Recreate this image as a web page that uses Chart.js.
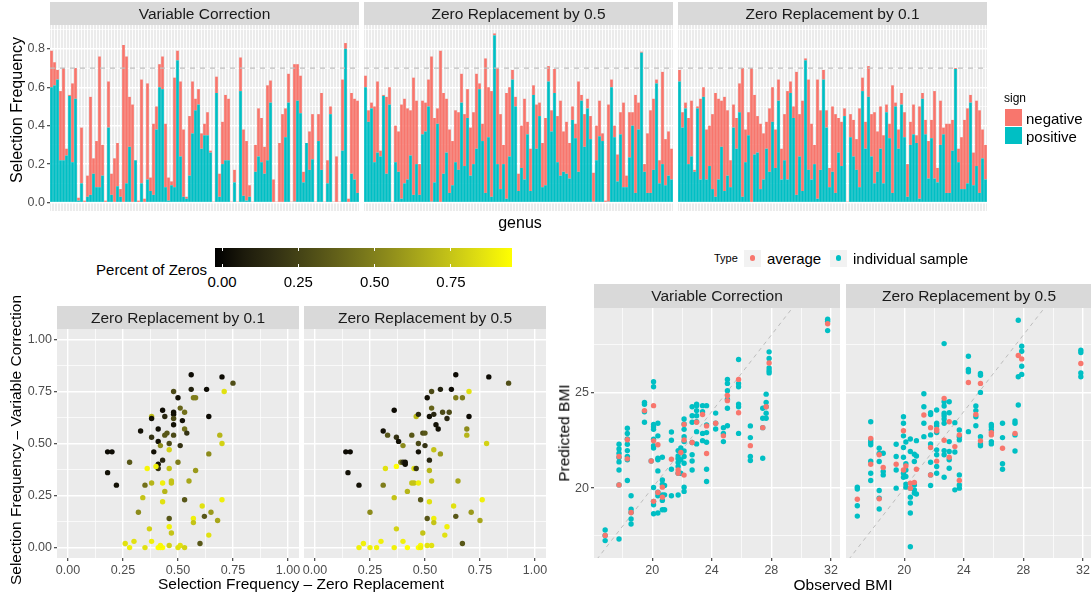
<!DOCTYPE html>
<html>
<head>
<meta charset="utf-8">
<script src="https://cdn.jsdelivr.net/npm/chart.js@4.4.1/dist/chart.umd.min.js"></script>
<style>
  body { margin: 0; background: #fff; width: 1091px; height: 596px; position: relative; overflow: hidden;
         font-family: "Liberation Sans", Arial, sans-serif; }
  canvas { position: absolute; }
  .t { position: absolute; white-space: nowrap; color: #000; line-height: 1; }
  .box { position: absolute; }
</style>
</head>
<body>
<canvas id="top1"></canvas><canvas id="top2"></canvas><canvas id="top3"></canvas>
<canvas id="sc1"></canvas><canvas id="sc2"></canvas>
<canvas id="bmi1"></canvas><canvas id="bmi2"></canvas>
<script>
// ---- top: selection frequency per genus, stacked by sign ----
const posVC = [.60,.61,.64,.22,.22,.245,.555,.21,.54,.01,.10,0,.03,.04,.15,.08,.08,.14,0,.39,.04,0,.085,.03,0,.10,.29,0,.22,0,
  .10,0,.12,.06,.04,.38,.60,.59,.08,.01,.09,.08,.74,.24,.03,.02,.14,.36,.48,.51,.28,.35,.35,.26,0,.57,.03,.20,.22,.22,
  0,.105,0,.58,.035,.01,.03,0,.16,.24,.21,.15,.22,.52,0,0,0,0,.34,.52,0,.005,.53,.465,.105,.31,.17,.225,0,.32,
  .17,0,.10,.46,0,0,0,.27,.80,0,.15,.12,.05];
const negVC = [.19,.12,.05,.36,.48,.035,.005,.41,.16,.015,.29,.01,.11,.51,.08,.24,.68,.16,.01,.24,.11,.23,.225,.04,.82,.66,.26,.51,0,.01,
  .54,.02,.50,.07,.37,.12,.12,.17,.33,.12,.02,.57,.05,.39,.35,.01,.31,.27,.06,.08,.08,.06,.12,.01,.005,.085,.12,.22,.34,.32,
  .005,.065,.005,.175,.345,.31,.06,.005,.14,.25,.23,.14,.39,.115,.12,.005,.31,.46,.15,.15,.005,.715,.19,.195,.055,0,.20,.235,.005,.14,
  .40,.005,.12,.04,.005,.24,.005,.37,.03,.02,.42,.42,.48];
const posZR05 = [.60,.42,.49,.21,.26,.24,.555,.15,.51,0,.21,.16,.02,.10,.12,.245,.04,.20,.04,.355,.37,.50,.005,.105,.41,0,.15,.26,.05,.09,
  .21,.17,.52,.19,.44,.14,.20,.28,.59,.32,.05,.34,.03,.87,.20,.07,.20,.02,.24,.64,.50,.06,.18,.12,.355,.06,.56,.28,.45,.08,
  .09,.63,.37,.57,.21,.14,.16,.15,.125,.43,.335,.16,.53,.29,.49,.33,.005,.22,.345,.32,0,.005,.60,.34,.11,.355,.08,.08,.235,.40,
  .05,.38,.78,.16,.05,.05,.17,.62,.10,.20,.09,.14,.12];
const negZR05 = [.06,.06,.03,.29,.37,.03,.005,.40,.09,.005,.19,.21,.49,.44,.37,.235,.61,.33,.16,.175,.15,.14,.755,.335,.08,.79,.42,.28,.33,.23,
  .27,.30,.15,.27,.15,.25,.27,.39,.03,.09,.70,.26,.55,.01,.50,.39,.10,.55,.36,.05,.05,.09,.22,.42,.065,.22,.05,.23,.07,.23,
  .35,.08,.11,.125,.24,.39,.21,.27,.185,.07,.075,.47,.03,.17,.05,.12,.15,.18,.185,.04,.01,.505,.04,.06,.14,.115,.44,.06,.235,.07,
  .51,.14,.005,.04,.31,.43,.37,.02,.12,.48,.24,.23,.16];
const posZR01 = [.63,.39,.49,.20,.24,.16,.49,.12,.55,.12,.19,.07,.03,.12,.29,.06,.14,.08,.39,.28,.47,.03,.21,.35,0,.25,.26,.07,.12,.28,
  .16,.42,.18,.53,.12,.22,.12,.57,.44,.04,.24,.06,.74,.17,.12,.20,.02,.17,.64,.39,.08,.16,.05,.26,.19,.45,0,.34,.24,.17,
  .08,.58,.28,.55,.24,.10,.16,.28,.10,.47,.335,.05,.50,.28,.51,.34,.03,.30,.355,.31,.02,.54,.355,.125,.335,.125,.105,.30,.355,.05,
  .05,.27,.695,.21,.07,.07,.10,.52,.09,.19,.05,.23,.12];
const negZR01 = [.06,.08,.03,.24,.29,.01,.01,.42,.05,.26,.21,.39,.54,.42,.24,.49,.34,.14,.12,.16,.15,.67,.17,.12,.70,.31,.19,.34,.24,.14,
  .33,.18,.20,.11,.16,.24,.46,.06,.06,.64,.22,.47,.01,.47,.29,.10,.62,.31,.05,.09,.10,.34,.41,.18,.23,.04,.005,.12,.19,.16,
  .41,.07,.14,.16,.22,.37,.21,.22,.25,.04,.075,.56,.02,.10,.06,.13,.17,.12,.155,.04,.48,.03,.075,.195,.095,.455,.075,.23,.035,.36,
  .36,.16,.005,.07,.27,.36,.39,.04,.17,.34,.43,.15,.18];
const genus = posVC.map((_, i) => 'genus ' + (i + 1));
const freqMajor = [0, 0.2, 0.4, 0.6, 0.8];
const freqMinor = [0.1, 0.3, 0.5, 0.7, 0.9];
const cutoff = 0.7;

// ---- bottom left: [zero replacement freq, variable correction freq, percent of zeros] ----
const zr01Points = [
  [.56,.83,.03],[.70,.82,.03],[.75,.79,.32],[.71,.75,.85],[.63,.76,.03],[.56,.76,.12],[.48,.75,.3],[.50,.72,.05],[.57,.72,.5],[.58,.72,.5],
  [.43,.66,.03],[.48,.65,.05],[.48,.64,.05],[.53,.65,.45],[.38,.63,.72],[.38,.62,.05],[.44,.63,.15],[.51,.67,.4],[.48,.62,.3],[.64,.63,.03],
  [.52,.61,.05],[.48,.59,.05],[.33,.56,.05],[.41,.57,.05],[.53,.57,.45],[.54,.55,.2],[.45,.55,.35],[.44,.54,.35],[.48,.54,.3],[.38,.53,.2],
  [.69,.54,.7],[.41,.51,.05],[.46,.50,.3],[.51,.49,.2],[.42,.49,.55],[.70,.50,.8],[.18,.46,.03],[.20,.46,.03],[.39,.46,.05],[.46,.47,.8],
  [.64,.45,.55],[.28,.41,.35],[.43,.42,.15],[.50,.41,.5],[.41,.40,.05],[.41,.38,.2],[.40,.39,.9],[.36,.38,.92],[.46,.38,.75],[.58,.37,.6],
  [.18,.36,.05],[.55,.32,.65],[.47,.32,.75],[.47,.31,.75],[.38,.31,.7],[.43,.31,.9],[.35,.30,.45],[.22,.30,.05],[.44,.27,.7],[.34,.24,.75],
  [.53,.23,.35],[.70,.23,.9],[.43,.22,.85],[.61,.20,.85],[.32,.17,.55],[.65,.17,.6],[.62,.15,.35],[.46,.14,.35],[.57,.14,.9],[.68,.13,.65],
  [.57,.12,.75],[.46,.10,.9],[.37,.09,.8],[.47,.07,.75],[.64,.06,.85],[.26,.02,.85],[.30,.03,.85],[.28,0,.9],[.38,.03,.9],[.35,0,.85],
  [.41,0,.95],[.42,0,.95],[.43,0,.95],[.42,.01,.93],[.46,.01,.8],[.50,0,.85],[.51,.01,.85],[.53,0,.8],[.60,.02,.35]
];
const zr05Points = [
  [.64,.83,.03],[.79,.82,.03],[.88,.79,.32],[.70,.75,.85],[.57,.76,.12],[.62,.76,.03],[.53,.75,.3],[.51,.72,.05],[.64,.72,.5],[.67,.72,.5],
  [.36,.66,.03],[.46,.63,.72],[.47,.64,.15],[.52,.63,.05],[.54,.64,.15],[.53,.67,.4],[.58,.65,.3],[.61,.65,.3],[.60,.62,.15],[.70,.63,.03],
  [.55,.59,.05],[.56,.57,.05],[.31,.56,.05],[.33,.54,.35],[.44,.54,.35],[.49,.55,.3],[.50,.55,.35],[.37,.53,.2],[.38,.51,.05],[.47,.50,.3],
  [.50,.49,.2],[.40,.49,.55],[.69,.57,.55],[.69,.54,.7],[.78,.50,.8],[.14,.46,.03],[.16,.46,.03],[.47,.46,.05],[.54,.47,.75],[.57,.45,.6],
  [.39,.41,.5],[.40,.41,.2],[.41,.40,.05],[.41,.41,.05],[.52,.42,.15],[.37,.39,.95],[.32,.38,.85],[.45,.38,.85],[.46,.38,.2],[.52,.37,.7],
  [.15,.36,.05],[.31,.30,.5],[.20,.30,.05],[.44,.31,.75],[.45,.31,.75],[.47,.31,.9],[.53,.32,.75],[.65,.32,.65],[.42,.27,.7],[.36,.24,.75],
  [.48,.23,.35],[.52,.22,.85],[.76,.23,.9],[.63,.20,.85],[.25,.17,.55],[.71,.17,.6],[.64,.15,.35],[.51,.14,.35],[.54,.14,.9],[.75,.13,.65],
  [.54,.12,.75],[.60,.10,.9],[.37,.09,.8],[.49,.07,.75],[.59,.06,.85],[.22,.02,.9],[.30,.03,.9],[.20,0,.9],[.25,0,.9],[.28,0,.9],
  [.36,0,.9],[.40,.03,.9],[.42,0,.95],[.47,0,.95],[.48,.01,.93],[.48,0,.9],[.51,.01,.85],[.53,.01,.85],[.67,.02,.35]
];
const sfMajor = [0, 0.25, 0.5, 0.75, 1];
const sfMinor = [0.125, 0.375, 0.625, 0.875];
const zeroTicks = [0, 0.25, 0.5, 0.75];
const zeroMax = 0.95;

// ---- bottom right: [observed BMI, [predicted BMI ...]] ----
const vcSample = [
  [16.84,[17.81,17.53,17.26]],[17.77,[22.29,22.05,21.82,21.60,21.37,20.95,20.17,17.34]],
  [18.33,[23.13,22.86,22.57,22.29,21.96,21.65,21.48,20.40]],[18.58,[19.60,18.90,18.73,18.39,18.13]],
  [19.48,[24.48,24.38,23.99,23.44]],[19.93,[21.42]],
  [20.09,[25.56,25.30,23.33,23.21,23.07,22.55,22.22,22.10,20.03,19.31,19.13,18.66]],
  [20.38,[23.39,22.73,21.56,21.48,20.90,19.79,19.60,18.70]],[20.68,[21.61,20.43,20.21,19.65,19.36,18.87]],
  [20.83,[20.14,19.65,18.87]],[21.29,[22.93,22.50,20.99,19.60]],[21.74,[21.96,21.68,21.53,21.34,21.13,20.78,19.64]],
  [21.92,[22.10,21.48,20.78]],[22.14,[23.61,23.35,23.07,22.69,22.43,21.94,21.65,21.30,20.05,19.83]],
  [22.68,[24.25,23.78,23.44,22.38,21.74,21.42,20.95]],[22.98,[24.38,24.31,24.05,23.78,23.47,22.95,22.31]],
  [23.38,[24.31,23.99,22.86,22.48]],[23.65,[24.31,23.30,22.90,22.40,20.99,20.35]],[24.26,[23.92,23.39,23.09]],
  [24.78,[23.16,22.86,22.43]],[25.05,[25.68,25.47,25.09,24.64,24.17,23.26]],[25.80,[26.72,25.47,25.30,24.39,24.25,22.86]],
  [26.59,[23.25,22.64,21.65,21.44]],[27.42,[24.17,23.65,23.16,21.56]],[27.65,[24.91,24.48,24.25,23.91,23.65]],
  [27.85,[27.12,26.77,26.28,26.13,26.02]],[31.78,[28.82,28.72,28.23]]
];
const vcAverage = [
  [16.84,[17.53]],[17.77,[21.65,20.17]],[18.33,[22.53,21.53]],[18.58,[18.73]],[19.48,[24.05]],[19.93,[21.42]],
  [20.09,[24.31,22.47,19.31]],[20.38,[22.27,19.77]],[20.68,[20.05,19.53]],[21.29,[21.51]],[21.74,[20.95,20.78]],
  [21.92,[21.86]],[22.14,[23.33,22.52,20.68]],[22.68,[22.38]],[22.98,[23.44]],[23.38,[23.85]],[23.65,[23.25,21.81]],
  [24.26,[23.39]],[24.78,[22.73]],[25.05,[24.84,24.57]],[25.80,[25.68,23.94]],[26.59,[22.22]],[27.42,[23.16]],
  [27.65,[24.25]],[27.85,[26.54]],[31.78,[28.59]]
];
const zrSample = [
  [16.85,[20.05,19.95,19.08,18.54]],[17.75,[23.47,22.52,22.38,22.26,21.41,20.78,20.40]],
  [18.32,[22.08,21.81,21.39,19.88,19.48,18.91]],[18.59,[21.82,20.87,20.69]],[19.46,[22.29,21.65,20.95,20.00]],
  [19.95,[23.73,23.39,22.73,22.12,21.61,20.78,20.57]],[20.11,[22.41,21.27,20.95,20.61,20.21,20.05]],
  [20.41,[22.57,21.91,20.00,19.53,19.22,18.70,16.94]],[20.68,[21.77,21.39,20.17,19.91,19.74]],
  [20.82,[22.48,21.68,19.69]],[21.32,[24.93,24.25,23.39,22.69]],[21.77,[23.94,23.85,22.78,22.31,21.35,20.69,20.14]],
  [22.18,[24.08,23.39,23.26,22.90,22.00,21.74,21.13,20.78]],
  [22.68,[27.55,24.51,24.29,23.91,23.78,23.61,23.39,21.96,21.74,20.57]],
  [23.02,[24.51,23.94,22.43,21.91,21.48,21.04]],[23.40,[23.42,21.89,19.91]],[23.70,[23.04,22.69,22.52,20.69,20.17,20.00]],
  [24.31,[26.89,26.20,26.08,22.95]],[24.81,[24.29,24.05,23.73,23.26]],[25.12,[25.99,25.90,25.00,22.69,22.31,22.21]],
  [25.85,[23.33,23.21,23.04,22.43,22.31]],[26.60,[23.39,22.64,21.27,20.99]],[27.44,[23.51,23.39,22.78,21.94]],
  [27.66,[28.77,25.82,24.34]],[27.89,[27.41,27.15,26.37,25.94]],[31.86,[27.20,27.08,26.02,25.82]]
];
const zrAverage = [
  [16.85,[19.42]],[17.75,[22.60,21.25]],[18.32,[21.74,19.44]],[18.59,[21.08]],[19.46,[21.25]],[19.95,[23.00,20.95]],
  [20.11,[21.16]],[20.41,[20.26,20.00]],[20.68,[20.30]],[20.82,[20.99]],[21.32,[23.82]],[21.77,[23.16,22.12,20.69]],
  [22.18,[23.07,23.00,21.41]],[22.68,[24.69,22.50]],[23.02,[23.47,21.61]],[23.40,[22.17]],[23.70,[22.78,20.40]],
  [24.31,[25.52]],[24.81,[23.85]],[25.12,[25.47,22.47]],[25.85,[22.90,22.78]],[26.60,[22.08]],[27.44,[22.86]],
  [27.66,[26.93]],[27.89,[26.75]],[31.86,[26.51]]
];
const bmiXMajor = [20, 24, 28, 32], bmiXMinor = [18, 22, 26, 30];
const bmiYMajor = [20, 25], bmiYMinor = [17.5, 22.5, 27.5];
const identity = [10, 40];

const NEG = '#F8766D', POS = '#00BFC4';
const FONT = '"Liberation Sans", Arial, sans-serif';
Chart.defaults.font.family = FONT;
Chart.defaults.animation = false;

// black -> yellow through Lab, like scale_colour_gradient
function lab2rgb(L, a, b) {
  let y = (L + 16) / 116, x = a / 500 + y, z = y - b / 200;
  const f = v => v * v * v > 0.008856 ? v * v * v : (v - 16 / 116) / 7.787;
  x = 0.95047 * f(x); y = f(y); z = 1.08883 * f(z);
  const r = x * 3.2406 - y * 1.5372 - z * 0.4986;
  const g = -x * 0.9689 + y * 1.8758 + z * 0.0415;
  const bl = x * 0.0557 - y * 0.2040 + z * 1.0570;
  const gam = v => v > 0.0031308 ? 1.055 * Math.pow(v, 1 / 2.4) - 0.055 : 12.92 * v;
  return [r, g, bl].map(v => Math.round(Math.max(0, Math.min(1, gam(v))) * 255));
}
function zeroColor(z) {
  const t = Math.max(0, Math.min(1, z / zeroMax));
  const c = lab2rgb(97.14 * t, -21.55 * t, 94.48 * t);
  return `rgb(${c[0]},${c[1]},${c[2]})`;
}

function place(id, box, m) {
  const c = document.getElementById(id);
  c.width = box.w + m.l + m.r; c.height = box.h + m.t + m.b;
  c.style.left = (box.x - m.l) + 'px'; c.style.top = (box.y - m.t) + 'px';
  return c;
}
const fixY = w => s => { s.width = w; s.paddingTop = 0; s.paddingBottom = 0; };
const fixX = h => s => { s.height = h; s.paddingLeft = 0; s.paddingRight = 0; };

function axis(o) {
  const all = o.major.concat(o.minor).sort((a, b) => a - b);
  const isMajor = v => o.major.some(m => Math.abs(m - v) < 1e-9);
  const maj = c => c.tick && isMajor(c.tick.value);
  return {
    type: 'linear', min: o.min, max: o.max, stacked: o.stacked,
    afterBuildTicks: s => { s.ticks = all.map(v => ({ value: v })); },
    afterFit: o.vertical ? fixY(o.size) : fixX(o.size),
    border: { display: false },
    grid: { color: '#FFFFFF', lineWidth: c => maj(c) ? 1.4 : 0.7, drawTicks: o.labels, tickLength: 3, tickWidth: 1.1,
            tickColor: c => maj(c) ? '#333333' : 'rgba(0,0,0,0)' },
    ticks: { display: o.labels, autoSkip: false, maxRotation: 0, padding: 2, color: '#4D4D4D', font: { size: 12.5 },
             callback: v => isMajor(v) ? o.fmt(v) : '' }
  };
}

function ggPanel(strip, stripH, refY) {
  return {
    id: 'ggPanel',
    beforeDraw(chart) {
      const a = chart.chartArea, c = chart.ctx;
      c.save();
      c.fillStyle = '#EBEBEB'; c.fillRect(a.left, a.top, a.right - a.left, a.bottom - a.top);
      c.fillStyle = '#D9D9D9'; c.fillRect(a.left, a.top - stripH, a.right - a.left, stripH);
      c.fillStyle = '#1A1A1A'; c.font = '15.5px ' + FONT; c.textAlign = 'center'; c.textBaseline = 'middle';
      c.fillText(strip, (a.left + a.right) / 2, a.top - stripH / 2 + 1);
      c.restore();
    },
    afterDatasetsDraw(chart) {
      if (refY == null) return;
      const a = chart.chartArea, c = chart.ctx, py = chart.scales.y.getPixelForValue(refY);
      c.save(); c.strokeStyle = '#BEBEBE'; c.lineWidth = 1.3; c.setLineDash([5, 5]);
      c.beginPath(); c.moveTo(a.left, py); c.lineTo(a.right, py); c.stroke(); c.restore();
    }
  };
}

function base(m) {
  return {
    responsive: false, animation: false,
    layout: { padding: { top: m.t, right: m.r, left: 0, bottom: 0 }, autoPadding: false },
    plugins: { legend: { display: false }, tooltip: { enabled: false } }
  };
}

// ---- top facets ----
function barFacet(id, box, m, strip, pos, neg, showY) {
  const opts = base(m);
  opts.datasets = { bar: { barPercentage: 0.9, categoryPercentage: 1, borderWidth: 0 } };
  opts.scales = {
    x: { stacked: true, offset: true, afterFit: fixX(m.b), border: { display: false },
         grid: { offset: false, color: '#FFFFFF', lineWidth: 0.9, drawTicks: false },
         ticks: { display: false, autoSkip: false } },
    y: axis({ min: -0.044, max: 0.924, major: freqMajor, minor: freqMinor, fmt: v => v.toFixed(1),
              labels: showY, size: m.l, vertical: true, stacked: true })
  };
  new Chart(place(id, box, m), {
    type: 'bar',
    data: { labels: genus, datasets: [
      { label: 'positive', data: pos, backgroundColor: POS },
      { label: 'negative', data: neg, backgroundColor: NEG }
    ] },
    options: opts,
    plugins: [ggPanel(strip, 23, cutoff)]
  });
}
barFacet('top1', { x: 50, y: 25, w: 309, h: 186 }, { l: 50, t: 25, r: 4, b: 4 }, 'Variable Correction', posVC, negVC, true);
barFacet('top2', { x: 364, y: 25, w: 309, h: 186 }, { l: 2, t: 25, r: 4, b: 4 }, 'Zero Replacement by 0.5', posZR05, negZR05, false);
barFacet('top3', { x: 678, y: 25, w: 309, h: 186 }, { l: 2, t: 25, r: 4, b: 4 }, 'Zero Replacement by 0.1', posZR01, negZR01, false);

// ---- selection frequency scatter facets ----
function freqFacet(id, box, m, strip, points, showY) {
  const opts = base(m);
  opts.scales = {
    x: axis({ min: -0.05, max: 1.05, major: sfMajor, minor: sfMinor, fmt: v => v.toFixed(2), labels: true, size: m.b }),
    y: axis({ min: -0.05, max: 1.05, major: sfMajor, minor: sfMinor, fmt: v => v.toFixed(2), labels: showY, size: m.l, vertical: true })
  };
  new Chart(place(id, box, m), {
    type: 'scatter',
    data: { datasets: [{
      data: points.map(p => ({ x: p[0], y: p[1], z: p[2] })),
      pointRadius: 2.7, pointBorderWidth: 0,
      pointBackgroundColor: c => zeroColor(c.raw.z)
    }] },
    options: opts,
    plugins: [ggPanel(strip, 23, null)]
  });
}
freqFacet('sc1', { x: 57, y: 329, w: 242, h: 229 }, { l: 57, t: 24, r: 14, b: 22 }, 'Zero Replacement by 0.1', zr01Points, true);
freqFacet('sc2', { x: 304, y: 329, w: 242, h: 229 }, { l: 2, t: 24, r: 14, b: 22 }, 'Zero Replacement by 0.5', zr05Points, false);

// ---- BMI facets ----
const flat = cols => cols.flatMap(([x, ys]) => ys.map(y => ({ x, y })));
function bmiFacet(id, box, m, strip, avg, smp, showY) {
  const opts = base(m);
  opts.scales = {
    x: axis({ min: 16.09, max: 32.61, major: bmiXMajor, minor: bmiXMinor, fmt: v => String(v), labels: true, size: m.b }),
    y: axis({ min: 16.35, max: 29.41, major: bmiYMajor, minor: bmiYMinor, fmt: v => String(v), labels: showY, size: m.l, vertical: true })
  };
  new Chart(place(id, box, m), {
    type: 'scatter',
    data: { datasets: [
      { label: 'average', data: flat(avg), pointRadius: 2.7, pointBorderWidth: 0, backgroundColor: NEG },
      { label: 'individual sample', data: flat(smp), pointRadius: 2.7, pointBorderWidth: 0, backgroundColor: POS },
      { type: 'line', data: identity.map(v => ({ x: v, y: v })), borderColor: '#BDBDBD', borderWidth: 1,
        borderDash: [4, 4], pointRadius: 0, fill: false }
    ] },
    options: opts,
    plugins: [ggPanel(strip, 24, null)]
  });
}
bmiFacet('bmi1', { x: 594, y: 308, w: 246, h: 250 }, { l: 34, t: 24, r: 6, b: 22 }, 'Variable Correction', vcAverage, vcSample, true);
bmiFacet('bmi2', { x: 846, y: 308, w: 246, h: 250 }, { l: 2, t: 24, r: 0, b: 22 }, 'Zero Replacement by 0.5', zrAverage, zrSample, false);

// ---- titles and legends ----
function text(str, x, y, o = {}) {
  const d = document.createElement('div');
  d.className = 't'; d.textContent = str;
  d.style.left = x + 'px'; d.style.top = y + 'px';
  d.style.fontSize = (o.size || 15) + 'px';
  if (o.color) d.style.color = o.color;
  const ax = o.anchor === 'l' ? '0' : o.anchor === 'r' ? '-100%' : '-50%';
  d.style.transform = `translate(${ax}, -50%)` + (o.rot ? ' rotate(-90deg)' : '');
  document.body.appendChild(d);
}
function box(x, y, w, h, bg, radius) {
  const d = document.createElement('div');
  d.className = 'box';
  Object.assign(d.style, { left: x + 'px', top: y + 'px', width: w + 'px', height: h + 'px', background: bg });
  if (radius) d.style.borderRadius = radius;
  document.body.appendChild(d);
}

text('Selection Frequency', 17, 110, { size: 16, rot: true });
text('genus', 520, 223, { size: 16 });
text('sign', 1004, 98, { size: 12, anchor: 'l' });
box(1005, 109, 17, 17, NEG); box(1005, 127, 17, 17, POS);
text('negative', 1026, 118, { size: 15, anchor: 'l' });
text('positive', 1026, 136, { size: 15, anchor: 'l' });

// colour bar
const cb = { x: 215, y: 248, w: 297, h: 19, zeroAt: 222, perUnit: 305.3 };
const stops = [];
for (let i = 0; i <= 10; i++) stops.push(zeroColor(zeroMax * i / 10) + ' ' + (i * 10) + '%');
box(cb.x, cb.y, cb.w, cb.h, 'linear-gradient(to right,' + stops.join(',') + ')');
zeroTicks.forEach(v => {
  const px = cb.zeroAt + v * cb.perUnit;
  box(px - 0.5, cb.y, 1, 3, '#FFFFFF'); box(px - 0.5, cb.y + cb.h - 3, 1, 3, '#FFFFFF');
  text(v.toFixed(2), px, 281, { size: 15 });
});
text('Percent of Zeros', 207, 269, { size: 15, anchor: 'r' });
text('Selection Frequency \u2013 Variable Correction', 16, 440, { size: 15.5, rot: true });
text('Selection Frequency \u2013 Zero Replacement', 301, 584, { size: 15.5 });

// BMI legend
text('Type', 714, 258, { size: 11, anchor: 'l' });
box(744, 250, 17, 17, '#F2F2F2'); box(749.8, 255.3, 5.4, 5.4, NEG, '50%');
text('average', 767, 258, { size: 15, anchor: 'l' });
box(830, 250, 17, 17, '#F2F2F2'); box(835.8, 255.3, 5.4, 5.4, POS, '50%');
text('individual sample', 853, 258, { size: 15, anchor: 'l' });
text('Predicted BMI', 564, 433, { size: 15.5, rot: true });
text('Observed BMI', 843, 585, { size: 15.5 });
</script>
</body>
</html>
